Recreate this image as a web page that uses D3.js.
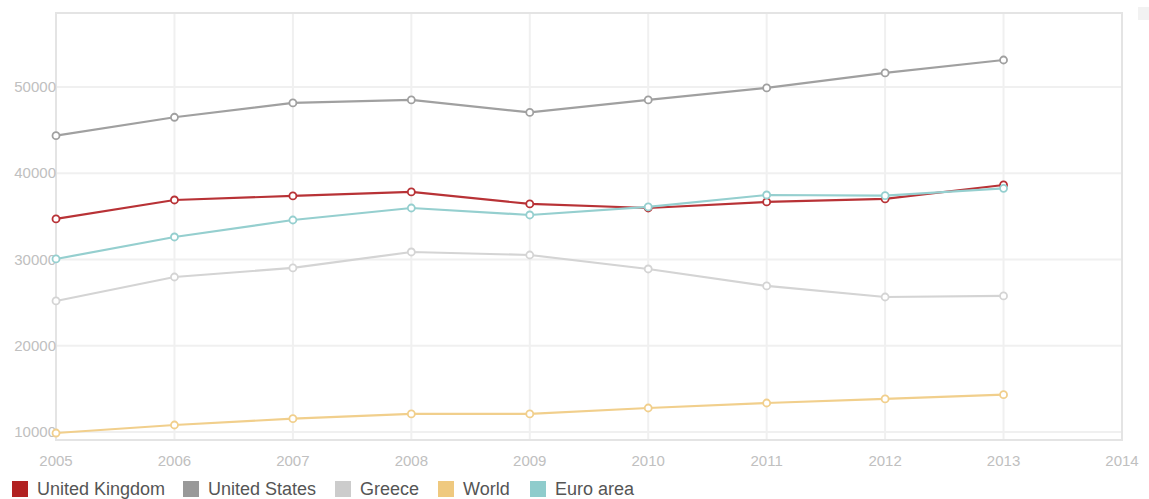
<!DOCTYPE html>
<html>
<head>
<meta charset="utf-8">
<script src="https://cdn.jsdelivr.net/npm/d3@7"></script>
<style>
  body { margin: 0; background: #fff; }
  svg { font-family: "Liberation Sans", Arial, sans-serif; }
</style>
</head>
<body>
<svg id="chart" width="1149" height="499"></svg>
<script>
// data
const years = [2005, 2006, 2007, 2008, 2009, 2010, 2011, 2012, 2013];
const unitedKingdom = [34700, 36900, 37370, 37830, 36440, 35970, 36670, 37020, 38640];
const unitedStates = [44360, 46490, 48150, 48500, 47050, 48500, 49890, 51630, 53130];
const greece = [25190, 27970, 29020, 30870, 30520, 28900, 26930, 25650, 25770];
const world = [9880, 10810, 11540, 12090, 12090, 12780, 13360, 13830, 14330];
const euroArea = [30060, 32610, 34580, 35970, 35160, 36090, 37480, 37400, 38250];
const yTicks = [10000, 20000, 30000, 40000, 50000];
const xTicks = [2005, 2006, 2007, 2008, 2009, 2010, 2011, 2012, 2013, 2014];

const series = [
  { name: 'United Kingdom', values: unitedKingdom, color: '#b83236', key: '#b22222' },
  { name: 'United States', values: unitedStates, color: '#a0a0a0', key: '#999999' },
  { name: 'Greece', values: greece, color: '#d4d4d4', key: '#cccccc' },
  { name: 'World', values: world, color: '#f1cf8c', key: '#efc97f' },
  { name: 'Euro area', values: euroArea, color: '#95cfcf', key: '#8fcccc' }
];

const svg = d3.select('#chart');
const plotL = 56, plotR = 1122, plotT = 13, plotB = 440;

const x = d3.scaleLinear().domain([2005, 2014]).range([plotL, plotR]);
const y = d3.scaleLinear().domain([9070, 58580]).range([plotB, plotT]);

// grid
svg.append('g').selectAll('line')
  .data(xTicks)
  .join('line')
  .attr('x1', d => x(d)).attr('x2', d => x(d))
  .attr('y1', plotT).attr('y2', plotB)
  .attr('stroke', '#f0f0f0').attr('stroke-width', 2);

svg.append('g').selectAll('line')
  .data(yTicks)
  .join('line')
  .attr('x1', plotL).attr('x2', plotR)
  .attr('y1', d => y(d)).attr('y2', d => y(d))
  .attr('stroke', '#f0f0f0').attr('stroke-width', 2);

svg.append('rect')
  .attr('x', plotL).attr('y', plotT)
  .attr('width', plotR - plotL).attr('height', plotB - plotT)
  .attr('fill', 'none').attr('stroke', '#e4e4e4').attr('stroke-width', 2);

// axis labels
svg.append('g').selectAll('text')
  .data(yTicks)
  .join('text')
  .attr('x', plotL).attr('y', d => y(d))
  .attr('dy', '0.35em')
  .attr('text-anchor', 'end')
  .attr('fill', '#c0c0c0')
  .style('font-size', '15px')
  .text(d => d);

svg.append('g').selectAll('text')
  .data(xTicks)
  .join('text')
  .attr('x', d => x(d)).attr('y', 466)
  .attr('text-anchor', 'middle')
  .attr('fill', '#c0c0c0')
  .style('font-size', '15px')
  .text(d => d);

// lines and points
const line = d3.line()
  .x((d, i) => x(years[i]))
  .y(d => y(d));

series.forEach(s => {
  svg.append('path')
    .datum(s.values)
    .attr('d', line)
    .attr('fill', 'none')
    .attr('stroke', s.color)
    .attr('stroke-width', 2.2);

  svg.append('g').selectAll('circle')
    .data(s.values)
    .join('circle')
    .attr('cx', (d, i) => x(years[i]))
    .attr('cy', d => y(d))
    .attr('r', 3.5)
    .attr('fill', '#fff')
    .attr('stroke', s.color)
    .attr('stroke-width', 1.8);
});

// legend
const legendX = [12, 183, 335, 438, 530];
const legend = svg.append('g');
series.forEach((s, i) => {
  legend.append('rect')
    .attr('x', legendX[i]).attr('y', 481)
    .attr('width', 16).attr('height', 16)
    .attr('fill', s.key);
  legend.append('text')
    .attr('x', legendX[i] + 25).attr('y', 495)
    .attr('fill', '#555')
    .style('font-size', '18px')
    .text(s.name);
});

// little box in the corner
svg.append('rect')
  .attr('x', 1138).attr('y', 7)
  .attr('width', 11).attr('height', 13)
  .attr('fill', '#f2f2f2');
</script>
</body>
</html>
